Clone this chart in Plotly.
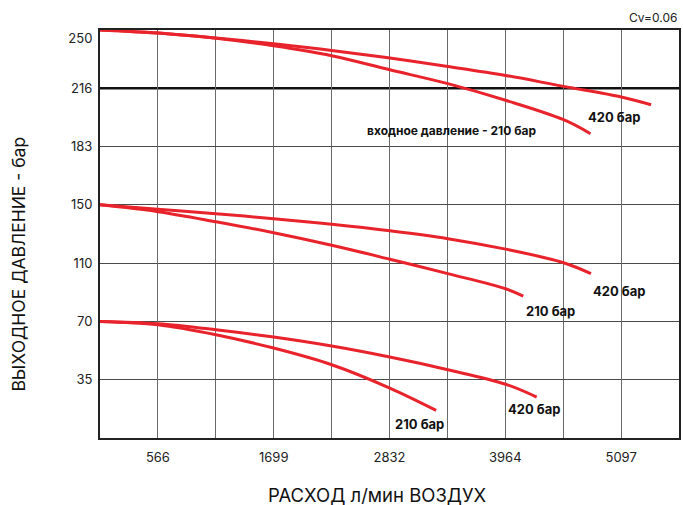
import numpy as np
import plotly.graph_objects as go

# Y scale: labelled pressure levels (equally spaced on the chart)
y_levels = [0, 35, 70, 110, 150, 183, 216, 250]
y_tick_labels = ["35", "70", "110", "150", "183", "216", "250"]

# X ticks (flow, l/min)
x_tick_vals = [566.3, 1699, 2832, 3964, 5097]
x_tick_labels = ["566", "1699", "2832", "3964", "5097"]
x_minor_vals = [1133, 2265, 3398, 4531]
x_max = 5663

# Outlet 250 bar group
top_420_x = [0, 566, 1134, 1698, 2266, 2834, 3402, 3967, 4534, 5098, 5390]
top_420_y = [250, 248.2, 245.3, 242.0, 238.1, 233.6, 228.7, 223.5, 217.1, 211.1, 206.7]
top_210_x = [0, 566, 1134, 1698, 2266, 2834, 3402, 3967, 4534, 4797]
top_210_y = [250, 248.2, 245.2, 240.8, 235.0, 226.8, 218.7, 209.2, 198.2, 190.3]

# Outlet 150 bar group
mid_420_x = [0, 566, 1134, 1698, 2266, 2834, 3402, 3967, 4534, 4802]
mid_420_y = [150, 147.0, 143.9, 140.5, 136.7, 132.2, 126.8, 119.6, 110.3, 102.8]
mid_210_x = [0, 566, 1134, 1698, 2266, 2834, 3402, 3967, 4140]
mid_210_y = [150, 145.3, 138.4, 130.9, 122.3, 112.7, 102.8, 92.4, 87.3]

# Outlet 70 bar group
low_420_x = [0, 566, 1134, 1698, 2266, 2834, 3402, 3967, 4271]
low_420_y = [70, 68.6, 65.0, 60.6, 55.2, 48.6, 41.0, 32.3, 24.6]
low_210_x = [0, 566, 1134, 1698, 2266, 2834, 3288]
low_210_y = [70, 68.0, 62.0, 54.0, 44.0, 30.0, 16.6]

level_pos = list(range(len(y_levels)))


def ypos(vals):
    return np.interp(vals, y_levels, level_pos)


RED = "#e8232b"
FONT = "Inter, Roboto, Arial, sans-serif"

fig = go.Figure()
for xs, ys in [(top_420_x, top_420_y), (top_210_x, top_210_y),
               (mid_420_x, mid_420_y), (mid_210_x, mid_210_y),
               (low_420_x, low_420_y), (low_210_x, low_210_y)]:
    fig.add_trace(go.Scatter(x=xs, y=ypos(ys), mode="lines",
                             line=dict(color=RED, width=3, shape="spline", smoothing=1.0),
                             showlegend=False, hoverinfo="skip"))

labels = [
    ("420 бар", 5034, 5.50, 13),
    ("входное давление - 210 бар", 3438, 5.27, 12),
    ("420 бар", 5079, 2.515, 13),
    ("210 бар", 4405, 2.172, 13),
    ("420 бар", 4247, 0.503, 13),
    ("210 бар", 3126, 0.240, 13),
]
for text, x, y, size in labels:
    fig.add_annotation(x=x, y=y, text="<b>%s</b>" % text, showarrow=False,
                       font=dict(family=FONT, size=size, color="#111"),
                       xanchor="center", yanchor="middle")

# thick 216 reference line
fig.add_shape(type="line", xref="paper", x0=0, x1=1, yref="y", y0=6, y1=6,
              line=dict(color="#111", width=2.5), layer="below")

fig.add_annotation(xref="paper", yref="paper", x=1.0, y=1.0, yshift=13,
                   text="Cv=0.06", showarrow=False, xanchor="right", yanchor="middle",
                   font=dict(family=FONT, size=12, color="#222"))
fig.add_annotation(xref="paper", yref="paper", x=0.479, y=0, yshift=-57,
                   text="РАСХОД л/мин ВОЗДУХ", showarrow=False, xanchor="center",
                   yanchor="middle", font=dict(family=FONT, size=18.5, color="#111"))
fig.add_annotation(xref="paper", yref="paper", x=0, xshift=-81, y=0.425,
                   text="ВЫХОДНОЕ ДАВЛЕНИЕ - бар", showarrow=False, textangle=-90,
                   xanchor="center", yanchor="middle",
                   font=dict(family=FONT, size=17.5, color="#111"))

fig.update_layout(
    width=683, height=505,
    margin=dict(l=100, r=2, t=30, b=67),
    plot_bgcolor="white", paper_bgcolor="white",
    font=dict(family=FONT, size=13, color="#222"),
    xaxis=dict(range=[0, x_max], tickmode="array", tickvals=x_tick_vals,
               ticktext=x_tick_labels, showgrid=True, gridcolor="#6a6a6a", gridwidth=1.3,
               minor=dict(tickmode="array", tickvals=x_minor_vals, showgrid=True,
                          gridcolor="#6a6a6a", gridwidth=1.3),
               showline=True, linecolor="#222", linewidth=2, mirror=True,
               ticks="", ticklabelstandoff=6, zeroline=False, fixedrange=True),
    yaxis=dict(range=[0, 7], tickmode="array",
               tickvals=[1, 2, 3, 4, 5, 6, 6.86], ticktext=y_tick_labels,
               showgrid=False,
               minor=dict(tickmode="array", tickvals=[1, 2, 3, 4, 5], showgrid=True,
                          gridcolor="#4a4a4a", gridwidth=1.3),
               showline=True, linecolor="#222", linewidth=2, mirror=True,
               ticks="", ticklabelstandoff=3, zeroline=False, fixedrange=True),
)

fig.write_html("out.html", config={"displayModeBar": False},
               post_script="document.body.style.margin='0';document.body.style.overflow='hidden';")
